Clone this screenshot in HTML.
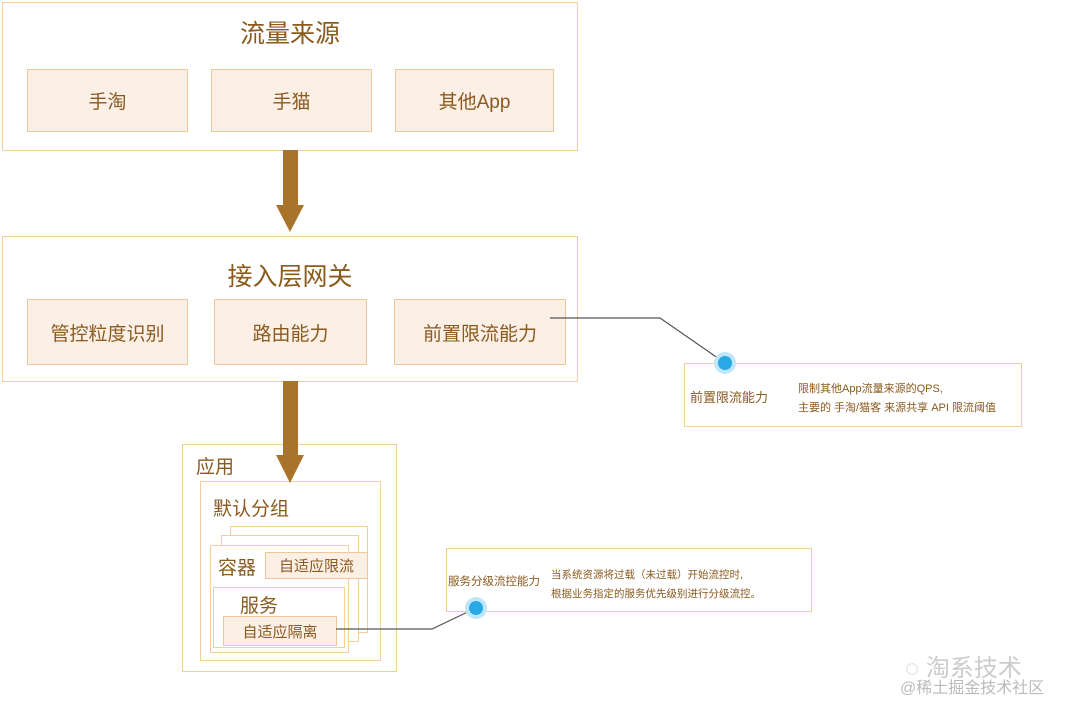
<!DOCTYPE html>
<html><head><meta charset="utf-8"><style>
body{margin:0;width:1080px;height:711px;background:#fff;position:relative;overflow:hidden;font-family:"Liberation Sans","Noto Sans CJK SC",sans-serif;color:#8a5a1f}
.b{position:absolute;box-sizing:border-box;border:1.5px solid #f2cf9c;background:#fff}
.f{position:absolute;box-sizing:border-box;border:1.5px solid #f0c898;background:#fcefe5;display:flex;align-items:center;justify-content:center;font-size:19px;color:#8a5a1f}
.t{position:absolute;white-space:nowrap}
</style></head><body>
<div class="b" style="left:2px;top:2px;width:576px;height:149px"></div>
<div class="t" style="left:0;width:580px;text-align:center;top:14px;font-size:25px">流量来源</div>
<div class="f" style="left:27px;top:69px;width:161px;height:63px">手淘</div>
<div class="f" style="left:211px;top:69px;width:161px;height:63px">手猫</div>
<div class="f" style="left:395px;top:69px;width:159px;height:63px">其他App</div>

<div class="b" style="left:2px;top:236px;width:576px;height:146px"></div>
<div class="t" style="left:0;width:580px;text-align:center;top:257px;font-size:25px">接入层网关</div>
<div class="f" style="left:27px;top:299px;width:161px;height:66px">管控粒度识别</div>
<div class="f" style="left:214px;top:299px;width:153px;height:66px">路由能力</div>
<div class="f" style="left:394px;top:299px;width:172px;height:66px">前置限流能力</div>

<div class="b" style="left:182px;top:444px;width:215px;height:228px"></div>
<div class="t" style="left:196px;top:452px;font-size:19px">应用</div>
<div class="b" style="left:200px;top:481px;width:181px;height:180px"></div>
<div class="t" style="left:213px;top:494px;font-size:19px">默认分组</div>
<div class="b" style="left:230px;top:526px;width:138px;height:107px"></div>
<div class="b" style="left:221px;top:535px;width:138px;height:107px"></div>
<div class="b" style="left:210px;top:545px;width:139px;height:108px"></div>
<div class="t" style="left:218px;top:553px;font-size:19px">容器</div>
<div class="f" style="left:265px;top:552px;width:103px;height:27px;font-size:15px">自适应限流</div>
<div class="b" style="left:213px;top:587px;width:132px;height:61px"></div>
<div class="t" style="left:240px;top:591px;font-size:19px">服务</div>
<div class="f" style="left:223px;top:616px;width:114px;height:30px;font-size:15px">自适应隔离</div>

<svg style="position:absolute;left:0;top:0" width="1080" height="711">
<polygon points="283,150 298,150 298,205 304,205 290,232 276,205 283,205" fill="#a8732a"/>
<polygon points="283,381 298,381 298,455 304,455 290,483 276,455 283,455" fill="#a8732a"/>
<polyline points="550,318 660,318 725,363" fill="none" stroke="#555" stroke-width="1.2"/>
<polyline points="336,629 432,629 476,608" fill="none" stroke="#555" stroke-width="1.2"/>
</svg>

<div class="b" style="left:684px;top:363px;width:338px;height:64px"></div>
<div class="t" style="left:690px;top:387px;font-size:13px">前置限流能力</div>
<div class="t" style="left:798px;top:380px;font-size:11px;line-height:19px">限制其他App流量来源的QPS,<br>主要的 手淘/猫客 来源共享 API 限流阈值</div>

<div class="b" style="left:446px;top:548px;width:366px;height:64px"></div>
<div class="t" style="left:448px;top:573px;font-size:11.5px">服务分级流控能力</div>
<div class="t" style="left:551px;top:566px;font-size:10.5px;line-height:19px">当系统资源将过载（未过载）开始流控时,<br>根据业务指定的服务优先级别进行分级流控。</div>

<svg style="position:absolute;left:0;top:0" width="1080" height="711">
<circle cx="725" cy="363" r="11" fill="#bfe6fa"/><circle cx="725" cy="363" r="7" fill="#29a8e6"/>
<circle cx="476" cy="608" r="11" fill="#bfe6fa"/><circle cx="476" cy="608" r="7" fill="#29a8e6"/>
</svg>

<div class="t" style="left:905px;top:648px;font-size:24px;color:#ccc">◌ 淘系技术</div>
<div class="t" style="left:900px;top:674px;font-size:16px;color:#bbb">@稀土掘金技术社区</div>
</body></html>
